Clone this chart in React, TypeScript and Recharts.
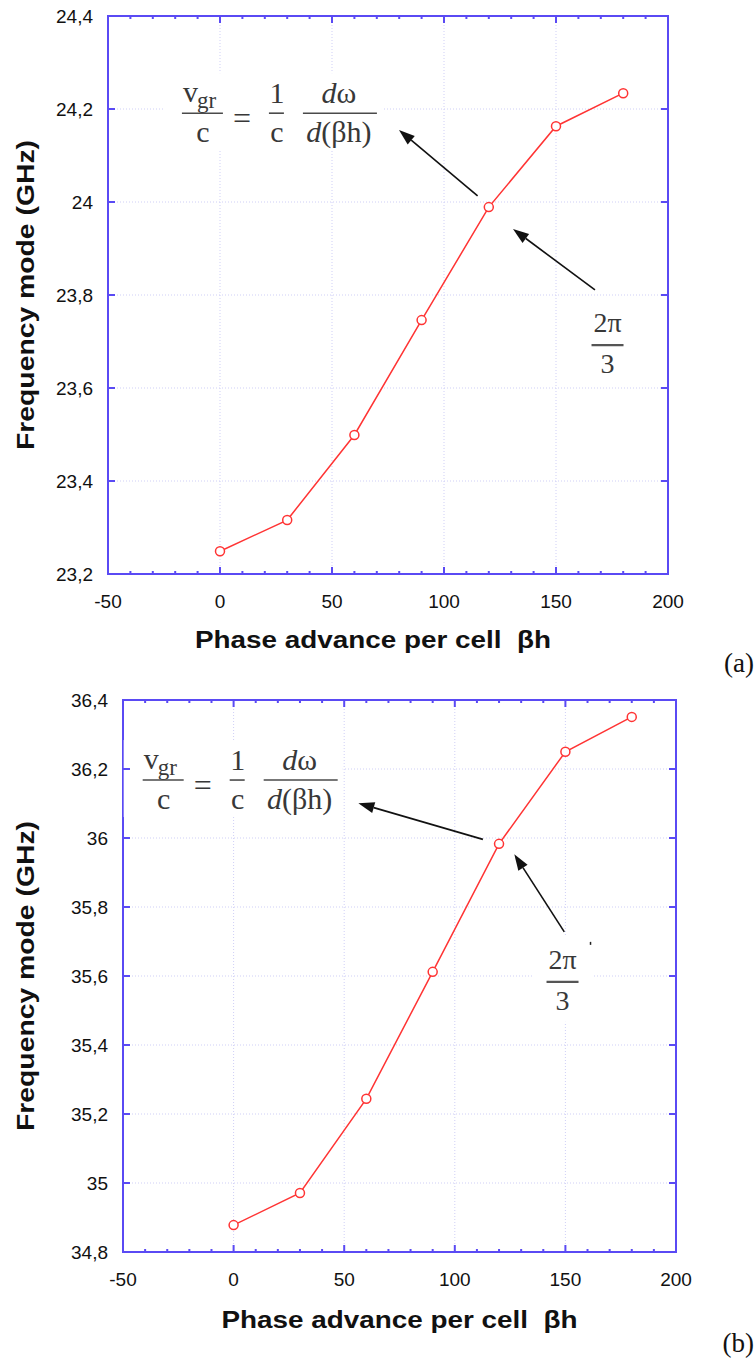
import {
  CartesianGrid,
  Line,
  LineChart,
  ReferenceArea,
  ReferenceDot,
  ReferenceLine,
  XAxis,
  YAxis,
} from "recharts";

// Dispersion curves of the two structures: frequency of the mode against the
// phase advance per cell.

const phaseAdvance = [0, 30, 60, 90, 120, 150, 180];
const freqModeA = [23.249, 23.316, 23.499, 23.746, 23.989, 24.163, 24.234];
const freqModeB = [34.878, 34.971, 35.244, 35.612, 35.983, 36.25, 36.351];

const xMajorTicks = [-50, 0, 50, 100, 150, 200];
const xMinorTicks = [
  -50, -40, -30, -20, -10, 0, 10, 20, 30, 40, 50, 60, 70, 80, 90, 100, 110,
  120, 130, 140, 150, 160, 170, 180, 190, 200,
];
const yTicksA = [23.2, 23.4, 23.6, 23.8, 24, 24.2, 24.4];
const yTicksB = [34.8, 35, 35.2, 35.4, 35.6, 35.8, 36, 36.2, 36.4];

const xTitle = "Phase advance per cell  βh";
const yTitle = "Frequency mode (GHz)";

const FRAME = "#5a4af4";
const RED = "#ff3434";
const SANS = "'Liberation Sans', Arial, sans-serif";
const SERIF = "'Liberation Serif', 'Times New Roman', serif";
const INK = "#383838";

const fmtTick = (v: number) => String(v).replace(".", ",");

// tick marks point inwards on all four sides of the frame
const makeXTick = (plotTop: number) => (props: any) => {
  const { x, y, payload } = props;
  const v = payload.value;
  const major = xMajorTicks.includes(v);
  const len = major ? 7 : 3;
  return (
    <g>
      <line x1={x} y1={y} x2={x} y2={y - len} stroke={FRAME} strokeWidth={2} />
      <line x1={x} y1={plotTop} x2={x} y2={plotTop + len} stroke={FRAME} strokeWidth={2} />
      {major && (
        <text x={x} y={y + 34} textAnchor="middle" fontFamily={SANS} fontSize={19} fill="#111">
          {v}
        </text>
      )}
    </g>
  );
};

const makeYTick = (plotRight: number) => (props: any) => {
  const { x, y, payload } = props;
  return (
    <g>
      <line x1={x} y1={y} x2={x + 7} y2={y} stroke={FRAME} strokeWidth={2} />
      <line x1={plotRight} y1={y} x2={plotRight - 7} y2={y} stroke={FRAME} strokeWidth={2} />
      <text x={x - 15} y={y + 7} textAnchor="end" fontFamily={SANS} fontSize={19} fill="#111">
        {fmtTick(payload.value)}
      </text>
    </g>
  );
};

const makeYTitle = () => (props: any) => {
  const vb = props.viewBox;
  const cx = 34;
  const cy = vb.y + vb.height / 2;
  return (
    <text
      x={cx}
      y={cy}
      transform={`rotate(-90 ${cx} ${cy})`}
      textAnchor="middle"
      textLength={310}
      lengthAdjust="spacingAndGlyphs"
      fontFamily={SANS}
      fontWeight="bold"
      fontSize={23}
      fill="#111"
    >
      {yTitle}
    </text>
  );
};

const makeXTitle = (dx: number, dy: number) => (props: any) => {
  const vb = props.viewBox;
  return (
    <text
      x={vb.x + vb.width / 2 + dx}
      y={vb.y + dy}
      textAnchor="middle"
      textLength={356}
      lengthAdjust="spacingAndGlyphs"
      fontFamily={SANS}
      fontWeight="bold"
      fontSize={23}
      fill="#111"
      style={{ whiteSpace: "pre" }}
    >
      {xTitle}
    </text>
  );
};

// v_gr / c = 1/c · dω / d(βh), anchored at the left end of the first bar
function GroupVelocity(props: any) {
  const { cx, cy } = props;
  const t = { fontFamily: SERIF, fill: INK };
  const bar = { stroke: "#4a4a4a", strokeWidth: 1.6 };
  return (
    <g>
      <rect x={cx - 19} y={cy - 40} width={219} height={77} fill="#fff" />
      <text x={cx + 1} y={cy - 11} fontSize={30} {...t}>v</text>
      <text x={cx + 15} y={cy - 5} fontSize={23} {...t}>gr</text>
      <line x1={cx} y1={cy} x2={cx + 41} y2={cy} {...bar} />
      <text x={cx + 21} y={cy + 29} fontSize={30} textAnchor="middle" {...t}>c</text>
      <text x={cx + 60} y={cy + 16} fontSize={32} textAnchor="middle" {...t}>=</text>
      <text x={cx + 95} y={cy - 10} fontSize={30} textAnchor="middle" {...t}>1</text>
      <line x1={cx + 87} y1={cy} x2={cx + 102} y2={cy} {...bar} />
      <text x={cx + 95} y={cy + 29} fontSize={30} textAnchor="middle" {...t}>c</text>
      <text x={cx + 157} y={cy - 10} fontSize={30} textAnchor="middle" {...t}>
        <tspan fontStyle="italic">d</tspan>ω
      </text>
      <line x1={cx + 121} y1={cy} x2={cx + 195} y2={cy} {...bar} />
      <text x={cx + 157} y={cy + 29} fontSize={30} textAnchor="middle" {...t}>
        <tspan fontStyle="italic">d</tspan>(βh)
      </text>
    </g>
  );
}

// 2π/3, anchored at the middle of its bar
const makeTwoPiThird = (tick: boolean) => (props: any) => {
  const { cx, cy } = props;
  const t = { fontFamily: SERIF, fill: INK, fontSize: 28, textAnchor: "middle" as const };
  return (
    <g>
      <rect x={cx - 30} y={cy - 46} width={60} height={86} fill="#fff" />
      <text x={cx} y={cy - 13} {...t}>2π</text>
      <line x1={cx - 16} y1={cy} x2={cx + 16} y2={cy} stroke="#555" strokeWidth={2.2} />
      <text x={cx} y={cy + 28} {...t}>3</text>
      {tick && <line x1={cx + 28} y1={cy - 40} x2={cx + 28} y2={cy - 37} stroke="#222" strokeWidth={1.5} />}
    </g>
  );
};

function Arrow(props: any) {
  const { x1, y1, x2, y2 } = props;
  const a = Math.atan2(y2 - y1, x2 - x1);
  const L = 16;
  const W = 5.5;
  const bx = x2 - L * Math.cos(a);
  const by = y2 - L * Math.sin(a);
  const px = W * Math.sin(a);
  const py = W * Math.cos(a);
  return (
    <g>
      <line x1={x1} y1={y1} x2={bx} y2={by} stroke="#111" strokeWidth={1.6} />
      <polygon points={`${x2},${y2} ${bx + px},${by - py} ${bx - px},${by + py}`} fill="#111" />
    </g>
  );
}

type Pt = { x: number; y: number };

interface PanelProps {
  values: number[];
  yTicks: number[];
  height: number;
  margin: { top: number; right: number; left: number; bottom: number };
  yAxisWidth: number;
  xAxisHeight: number;
  titleDx: number;
  titleDy: number;
  formulaAt: Pt;
  fractionAt: Pt;
  fractionTick: boolean;
  arrows: [Pt, Pt][];
}

const WIDTH = 756;

function Panel(p: PanelProps) {
  const data = phaseAdvance.map((phase, i) => ({ phase, freq: p.values[i] }));
  const y0 = p.yTicks[0];
  const y1 = p.yTicks[p.yTicks.length - 1];
  const plotRight = WIDTH - p.margin.right;
  return (
    <LineChart width={WIDTH} height={p.height} data={data} margin={p.margin}>
      <CartesianGrid
        stroke="#cfcff6"
        strokeDasharray="1 2"
        verticalValues={xMajorTicks}
        horizontalValues={p.yTicks}
      />
      <XAxis
        dataKey="phase"
        type="number"
        domain={[-50, 200]}
        ticks={xMinorTicks}
        interval={0}
        tickSize={0}
        tickMargin={0}
        tickLine={false}
        axisLine={false}
        height={p.xAxisHeight}
        tick={makeXTick(p.margin.top)}
        label={makeXTitle(p.titleDx, p.titleDy)}
      />
      <YAxis
        type="number"
        domain={[y0, y1]}
        ticks={p.yTicks}
        interval={0}
        tickSize={0}
        tickMargin={0}
        tickLine={false}
        axisLine={false}
        width={p.yAxisWidth}
        tick={makeYTick(plotRight)}
        label={makeYTitle()}
      />
      <ReferenceDot
        x={p.formulaAt.x}
        y={p.formulaAt.y}
        r={0}
        ifOverflow="visible"
        shape={GroupVelocity}
      />
      <ReferenceDot
        x={p.fractionAt.x}
        y={p.fractionAt.y}
        r={0}
        ifOverflow="visible"
        shape={makeTwoPiThird(p.fractionTick)}
      />
      {p.arrows.map((seg, i) => (
        <ReferenceLine key={i} segment={seg} ifOverflow="visible" shape={Arrow} />
      ))}
      <Line
        dataKey="freq"
        stroke={RED}
        strokeWidth={1.5}
        dot={{ r: 4.5, stroke: RED, strokeWidth: 1.5, fill: "#fff" }}
        isAnimationActive={false}
      />
      <ReferenceArea
        x1={-50}
        x2={200}
        y1={y0}
        y2={y1}
        fill="none"
        fillOpacity={0}
        stroke={FRAME}
        strokeWidth={2}
        ifOverflow="visible"
      />
    </LineChart>
  );
}

const panelLabel = {
  position: "absolute" as const,
  right: 2,
  fontFamily: SERIF,
  fontSize: 27,
  lineHeight: "27px",
  color: "#111",
};

export default function App() {
  return (
    <div style={{ position: "absolute", left: 0, top: 0, width: WIDTH, height: 1365, background: "#fff" }}>
      <div style={{ position: "absolute", left: 0, top: 0 }}>
        <Panel
          values={freqModeA}
          yTicks={yTicksA}
          height={680}
          margin={{ top: 16, right: 88, left: 0, bottom: 0 }}
          yAxisWidth={108}
          xAxisHeight={106}
          titleDx={-15}
          titleDy={74}
          formulaAt={{ x: -17, y: 24.191 }}
          fractionAt={{ x: 173, y: 23.692 }}
          fractionTick={false}
          arrows={[
            [{ x: 115, y: 24.013 }, { x: 79.9, y: 24.155 }],
            [{ x: 167.4, y: 23.811 }, { x: 130.8, y: 23.942 }],
          ]}
        />
      </div>
      <div style={{ ...panelLabel, top: 650 }}>(a)</div>
      <div style={{ position: "absolute", left: 0, top: 680 }}>
        <Panel
          values={freqModeB}
          yTicks={yTicksB}
          height={685}
          margin={{ top: 20, right: 80, left: 0, bottom: 0 }}
          yAxisWidth={123}
          xAxisHeight={113}
          titleDx={0}
          titleDy={76}
          formulaAt={{ x: -41.1, y: 36.168 }}
          fractionAt={{ x: 148.7, y: 35.583 }}
          fractionTick={true}
          arrows={[
            [{ x: 112.7, y: 35.996 }, { x: 56.4, y: 36.101 }],
            [{ x: 149.5, y: 35.728 }, { x: 126.9, y: 35.953 }],
          ]}
        />
      </div>
      <div style={{ ...panelLabel, top: 1330 }}>(b)</div>
    </div>
  );
}
